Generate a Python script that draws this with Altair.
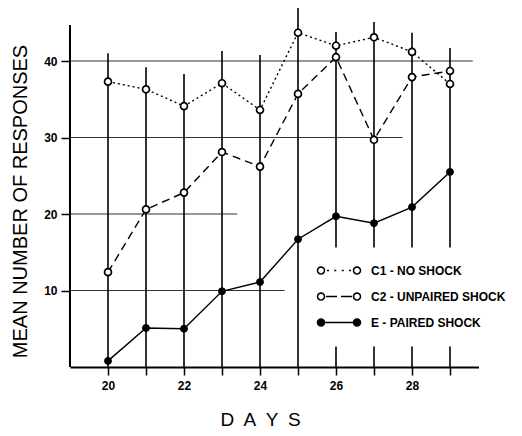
import math
import altair as alt
import pandas as pd

# ---------------- data ----------------
days = [20, 21, 22, 23, 24, 25, 26, 27, 28, 29]
groups = ["C1 - NO SHOCK", "C2 - UNPAIRED SHOCK", "E - PAIRED SHOCK"]
c1_values = [37.3, 36.3, 34.1, 37.1, 33.6, 43.7, 42.0, 43.1, 41.2, 37.0]
c2_values = [12.4, 20.6, 22.8, 28.1, 26.2, 35.7, 40.5, 29.7, 37.9, 38.7]
e_values = [0.8, 5.1, 5.0, 9.9, 11.1, 16.7, 19.7, 18.8, 20.9, 25.5]
bar_low = [0, 0, 0, 0, 0, 0, 0, 0, 0, 0]
bar_high = [41.0, 39.2, 38.3, 41.3, 40.8, 47.3, 43.8, 45.1, 43.7, 41.7]

x_ticks = [20, 21, 22, 23, 24, 25, 26, 27, 28, 29]
x_label_days = [20, 22, 24, 26, 28]
y_ticks = [10, 20, 30, 40]
grid_values = [10, 20, 30, 40]
grid_ends = [24.65, 23.4, 27.75, 29.6]

x_domain = [19, 29.75]
y_domain = [0, 46.93]
y_axis_top = 44.7

# ---------------- tables ----------------
rows = []
for g, vals in zip(groups, [c1_values, c2_values, e_values]):
    for d, v in zip(days, vals):
        rows.append({"day": d, "group": g, "value": v})
df = pd.DataFrame(rows)
bars = pd.DataFrame({"day": days, "lo": bar_low, "hi": bar_high})
grid = pd.DataFrame({"x0": [x_domain[0]] * len(grid_values), "x1": grid_ends, "y": grid_values})
yaxis_df = pd.DataFrame({"x": [x_domain[0]], "y0": [0], "y1": [y_axis_top]})
legend_df = pd.DataFrame({"group": groups})

# ---------------- legend symbols (circle - line - circle) ----------------
def circ(cx, r, n=16):
    pts = []
    for i in range(n):
        a = 2 * math.pi * i / n
        pts.append((round(cx + r * math.cos(a), 3), round(r * math.sin(a), 3)))
    s = "M%s,%s" % pts[0]
    for p in pts[1:]:
        s += "L%s,%s" % p
    return s + "Z"

def segs(pairs):
    return "".join("M%s,0L%s,0" % (a, b) for a, b in pairs)

R, CX = 0.7, 3.6
sym_c1 = circ(-CX, R) + segs([(-2.4, -2.0), (-0.95, -0.55), (0.55, 0.95), (2.0, 2.4)]) + circ(CX, R)
sym_c2 = circ(-CX, R) + segs([(-2.6, -0.4), (0.4, 2.6)]) + circ(CX, R)
sym_e = circ(-CX, R) + segs([(-2.9, 2.9)]) + circ(CX, R)

FONT = "Liberation Sans"
DASHES = [[2, 3], [8, 5], None]

x_scale = alt.Scale(domain=x_domain, nice=False, zero=False)
y_scale = alt.Scale(domain=y_domain, nice=False, zero=False)

label_test = "indexof([" + ",".join(str(v) for v in x_label_days) + "], datum.value) >= 0 ? datum.label : ''"

x_axis = alt.Axis(
    values=x_ticks, labelExpr=label_test, grid=False,
    domain=True, domainColor="black", domainWidth=2,
    ticks=True, tickColor="black", tickWidth=1.5, tickSize=8,
    labelFont=FONT, labelFontSize=12, labelFontWeight="bold", labelColor="black",
    labelPadding=5,
    title="D\u2002A\u2002Y\u2002S", titleFont=FONT, titleFontSize=19, titleFontWeight="normal",
    titleColor="black", titleX=190, titleY=58, titleBaseline="alphabetic", titleAlign="center",
)
y_axis = alt.Axis(
    values=y_ticks, grid=False, domain=False,
    ticks=True, tickColor="black", tickWidth=1.5, tickSize=9,
    labelFont=FONT, labelFontSize=12, labelFontWeight="bold", labelColor="black",
    labelPadding=4,
    title="MEAN NUMBER OF RESPONSES", titleFont=FONT, titleFontSize=20, titleFontWeight="normal",
    titleColor="black", titleX=-50, titleY=193, titleAngle=270, titleAlign="center",
    titleBaseline="middle",
)

gridlines = alt.Chart(grid).mark_rule(color="#333333", strokeWidth=1.1).encode(
    x=alt.X("x0:Q", scale=x_scale, axis=x_axis),
    x2="x1:Q",
    y=alt.Y("y:Q", scale=y_scale, axis=y_axis),
)

yaxis_line = alt.Chart(yaxis_df).mark_rule(color="black", strokeWidth=2).encode(
    x=alt.X("x:Q", scale=x_scale, axis=x_axis),
    y=alt.Y("y0:Q", scale=y_scale, axis=y_axis),
    y2="y1:Q",
)

errbars = alt.Chart(bars).mark_rule(color="black", strokeWidth=1.6).encode(
    x=alt.X("day:Q", scale=x_scale, axis=x_axis),
    y=alt.Y("lo:Q", scale=y_scale, axis=y_axis),
    y2="hi:Q",
)

line_layers = []
for g, dash in zip(groups, DASHES):
    kw = {"color": "black", "strokeWidth": 1.4}
    if dash:
        kw["strokeDash"] = dash
    line_layers.append(
        alt.Chart(df).transform_filter(alt.FieldEqualPredicate(field="group", equal=g))
        .mark_line(**kw).encode(
            x=alt.X("day:Q", scale=x_scale, axis=x_axis),
            y=alt.Y("value:Q", scale=y_scale, axis=y_axis),
        )
    )

open_pts = alt.Chart(df).transform_filter(
    alt.FieldOneOfPredicate(field="group", oneOf=groups[:2])
).mark_circle(size=48, fill="white", stroke="black", strokeWidth=1.7, opacity=1).encode(
    x=alt.X("day:Q", scale=x_scale, axis=x_axis),
    y=alt.Y("value:Q", scale=y_scale, axis=y_axis),
)

filled_pts = alt.Chart(df).transform_filter(
    alt.FieldEqualPredicate(field="group", equal=groups[2])
).mark_circle(size=48, fill="black", stroke="black", strokeWidth=1, opacity=1).encode(
    x=alt.X("day:Q", scale=x_scale, axis=x_axis),
    y=alt.Y("value:Q", scale=y_scale, axis=y_axis),
)

legend_def = alt.Legend(
    orient="none", legendX=246, legendY=239.5, title=None,
    padding=17, fillColor="white",
    labelFont=FONT, labelFontSize=12, labelFontWeight="bold", labelColor="black", labelOffset=26,
    rowPadding=12, symbolSize=100, symbolStrokeWidth=1.5, symbolStrokeColor="black",
    symbolOpacity=1,
)

legend_layer = alt.Chart(legend_df).mark_point(
    strokeWidth=1.5, opacity=0, size=100
).encode(
    shape=alt.Shape("group:N", scale=alt.Scale(domain=groups, range=[sym_c1, sym_c2, sym_e]), legend=legend_def),
    fill=alt.Fill("group:N", scale=alt.Scale(domain=groups, range=["white", "white", "black"]), legend=legend_def),
    stroke=alt.Stroke("group:N", scale=alt.Scale(domain=groups, range=["black", "black", "black"]), legend=legend_def),
)

chart = alt.layer(
    gridlines, errbars, yaxis_line, *line_layers, open_pts, filled_pts, legend_layer
).properties(
    width=408.5,
    height=359,
    autosize=alt.AutoSizeParams(type="none"),
    padding={"left": 62, "top": 0, "right": 35.5, "bottom": 61},
    background="white",
).configure_view(stroke=None)

chart.save("out.html", embed_options={"renderer": "svg", "actions": False})
